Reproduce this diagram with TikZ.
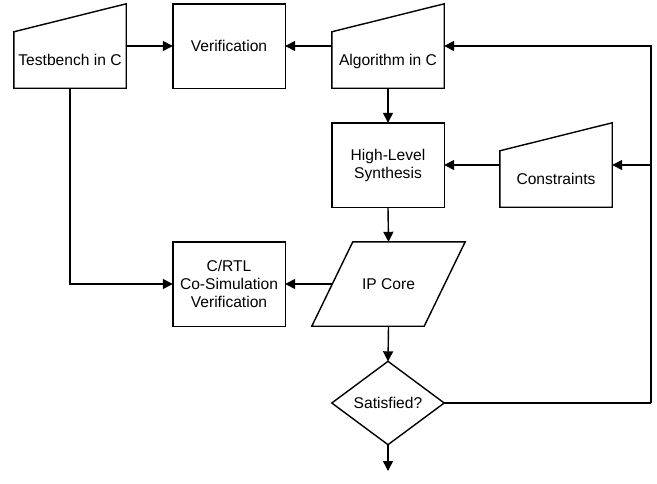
\documentclass[tikz,border=0pt]{standalone}
\usepackage{fontspec}
\setmainfont{Liberation Sans}
\usetikzlibrary{arrows.meta,calc}
\begin{document}
\begin{tikzpicture}[x=1pt,y=-1pt,
  txt/.style={font=\fontsize{15.6}{18}\selectfont},
  ghost/.style={minimum width=112pt, minimum height=84pt, inner sep=0pt},
  box/.style={ghost, txt, align=center},
  lbl/.style={txt, inner sep=0pt, align=center},
  outline/.style={draw, line width=1.4pt, line join=miter},
  arr/.style={line width=1.4pt, -{Triangle[length=10pt,width=10pt]}},
  wire/.style={line width=1.4pt}]
\fill[white] (0,0) rectangle (657,483);
\useasboundingbox (0,0) rectangle (657,483);

% Testbench in C (manual input)
\node[ghost] (tb) at (70,46) {};
\draw[outline] (tb.south west) -- (tb.south east) -- (tb.north east) -- ($(tb.north west)+(0,28)$) -- cycle;
\node[lbl] (tbt) at (70,60) {Testbench in C};

% Verification
\node[box] (ver) at (229,46) {Verification};
\draw[outline] (ver.south west) -- (ver.south east) -- (ver.north east) -- (ver.north west) -- cycle;

% Algorithm in C (manual input)
\node[ghost] (alg) at (388,46) {};
\draw[outline] (alg.south west) -- (alg.south east) -- (alg.north east) -- ($(alg.north west)+(0,28)$) -- cycle;
\node[lbl] (algt) at (388,61) {Algorithm in C};

% High-Level Synthesis
\node[box] (hls) at (388,165) {High-Level\\Synthesis};
\draw[outline] (hls.south west) -- (hls.south east) -- (hls.north east) -- (hls.north west) -- cycle;

% Constraints (manual input)
\node[ghost] (cons) at (556,165) {};
\draw[outline] (cons.south west) -- (cons.south east) -- (cons.north east) -- ($(cons.north west)+(0,28)$) -- cycle;
\node[lbl] (const) at (556,179) {Constraints};

% IP Core (parallelogram)
\node[ghost] (ip) at (388.5,284) {};
\draw[outline] ($(ip.north west)+(20.5,0)$) -- ($(ip.north east)+(20.5,0)$) -- ($(ip.south east)+(-20.5,0)$) -- ($(ip.south west)+(-20.5,0)$) -- cycle;
\node[lbl] (ipt) at (388.5,284) {IP Core};

% C/RTL Co-Simulation Verification
\node[box] (crtl) at (229,284) {C/RTL\\Co-Simulation\\Verification};
\draw[outline] (crtl.south west) -- (crtl.south east) -- (crtl.north east) -- (crtl.north west) -- cycle;

% Satisfied? (decision)
\node[ghost, minimum height=83pt] (sat) at (388,403) {};
\draw[outline] (sat.north) -- (sat.east) -- (sat.south) -- (sat.west) -- cycle;
\node[lbl] (satt) at (388,403) {Satisfied?};

% helper coordinates
\coordinate (fbc) at (651,403);
\coordinate (fbm) at (651,165);
\coordinate (fin) at (388,471);

% connectors
\draw[arr] (tb.east) -- (ver.west);
\draw[arr] (alg.west) -- (ver.east);
\draw[arr] (alg.south) -- (hls.north);
\draw[arr] (cons.west) -- (hls.east);
\draw[arr] (hls.south) -- (ip.north);
\draw[arr] (ip.west) -- (crtl.east);
\draw[arr] (tb.south) |- (crtl.west);
\draw[arr] (ip.south) -- (sat.north);
\draw[wire] (sat.east) -- (fbc);
\draw[arr] (fbc) |- (alg.east);
\draw[arr] (fbm) -- (cons.east);
\draw[arr] (sat.south) -- (fin);
\end{tikzpicture}
\end{document}
